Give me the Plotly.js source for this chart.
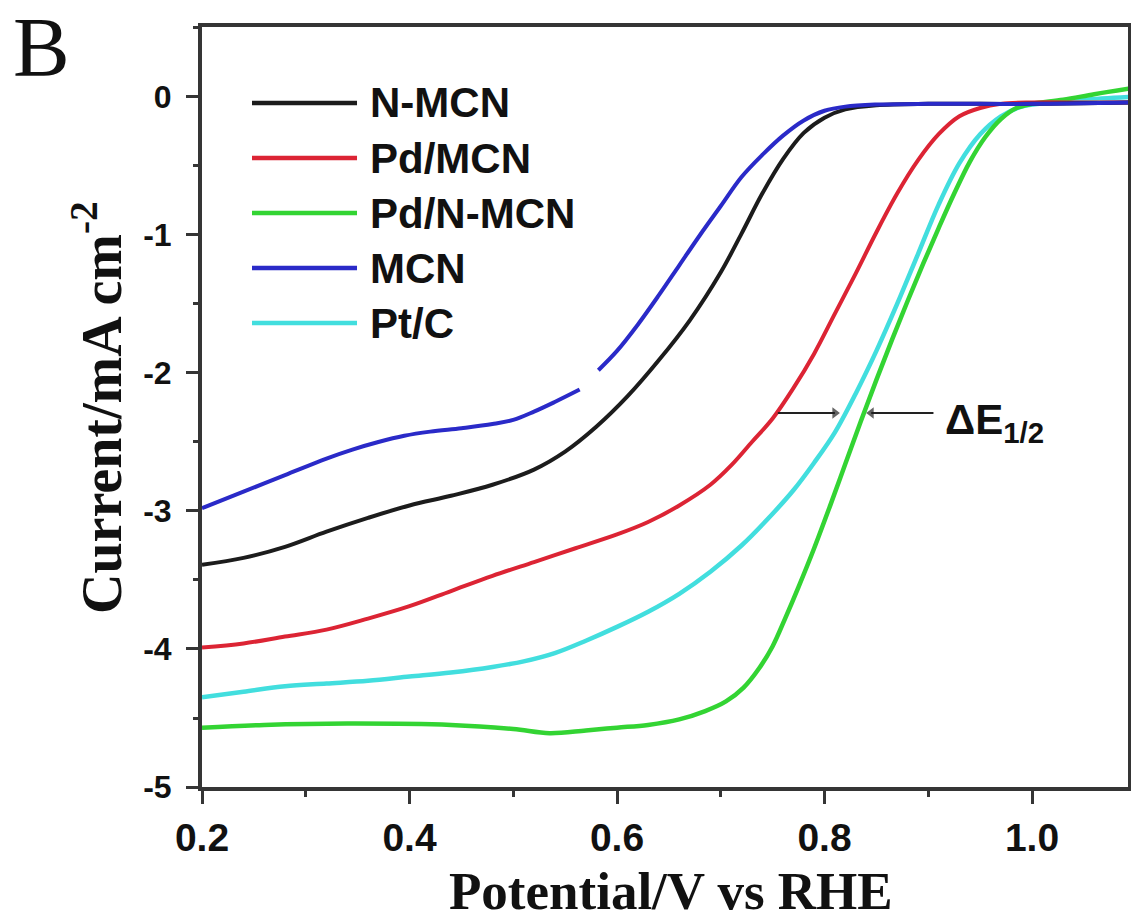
<!DOCTYPE html>
<html>
<head>
<meta charset="utf-8">
<script src="https://cdn.plot.ly/plotly-3.0.1.min.js"></script>
<style>
  html, body { margin: 0; padding: 0; background: #ffffff; }
  #chart { width: 1131px; height: 922px; }
</style>
</head>
<body>
<div id="chart"></div>
<script>
// ---------- data ----------
const seriesNames = ['N-MCN', 'Pd/MCN', 'Pd/N-MCN', 'MCN', 'Pt/C'];
const seriesColors = ['#1c1c1c', '#dc2434', '#33d433', '#2a2ac8', '#42dede'];

const potentialNMCN = [0.2, 0.24, 0.28, 0.32, 0.36, 0.40, 0.44, 0.48, 0.52, 0.55, 0.58, 0.61, 0.64, 0.67, 0.70, 0.72, 0.74, 0.76, 0.78, 0.80, 0.82, 0.85, 0.90, 0.95, 1.0, 1.05, 1.093];
const currentNMCN   = [-3.39, -3.34, -3.26, -3.15, -3.05, -2.96, -2.89, -2.81, -2.70, -2.57, -2.39, -2.17, -1.91, -1.62, -1.27, -0.99, -0.70, -0.45, -0.26, -0.15, -0.09, -0.06, -0.05, -0.05, -0.05, -0.045, -0.04];

const potentialPdMCN = [0.2, 0.24, 0.28, 0.32, 0.36, 0.40, 0.44, 0.48, 0.52, 0.56, 0.60, 0.63, 0.66, 0.69, 0.71, 0.73, 0.75, 0.77, 0.79, 0.81, 0.83, 0.85, 0.87, 0.89, 0.91, 0.93, 0.95, 0.97, 1.0, 1.05, 1.093];
const currentPdMCN   = [-3.99, -3.96, -3.91, -3.86, -3.78, -3.69, -3.58, -3.47, -3.37, -3.27, -3.17, -3.08, -2.96, -2.81, -2.67, -2.50, -2.33, -2.11, -1.86, -1.57, -1.28, -0.98, -0.70, -0.46, -0.27, -0.14, -0.08, -0.05, -0.04, -0.04, -0.04];

const potentialPdNMCN = [0.2, 0.26, 0.34, 0.44, 0.50, 0.535, 0.57, 0.60, 0.63, 0.66, 0.685, 0.705, 0.722, 0.737, 0.75, 0.762, 0.775, 0.79, 0.805, 0.82, 0.835, 0.85, 0.865, 0.88, 0.895, 0.91, 0.925, 0.94, 0.955, 0.97, 0.985, 1.0, 1.03, 1.06, 1.093];
const currentPdNMCN   = [-4.57, -4.55, -4.54, -4.55, -4.58, -4.61, -4.59, -4.57, -4.55, -4.51, -4.45, -4.38, -4.28, -4.14, -3.98, -3.78, -3.55, -3.27, -2.97, -2.66, -2.35, -2.05, -1.76, -1.48, -1.21, -0.95, -0.70, -0.47, -0.29, -0.16, -0.08, -0.05, -0.02, 0.02, 0.06];

// MCN curve has a small break in the original (null marks the gap)
const potentialMCN = [0.2, 0.24, 0.28, 0.32, 0.345, 0.37, 0.395, 0.42, 0.45, 0.48, 0.50, 0.52, 0.54, 0.564, null, 0.582, 0.60, 0.62, 0.64, 0.66, 0.68, 0.70, 0.72, 0.74, 0.76, 0.78, 0.80, 0.82, 0.85, 0.90, 0.95, 1.0, 1.05, 1.093];
const currentMCN   = [-2.98, -2.86, -2.74, -2.62, -2.555, -2.50, -2.455, -2.425, -2.40, -2.37, -2.34, -2.28, -2.21, -2.12, null, -1.98, -1.84, -1.65, -1.44, -1.22, -1.00, -0.79, -0.58, -0.42, -0.28, -0.17, -0.10, -0.07, -0.055, -0.05, -0.05, -0.05, -0.045, -0.04];

const potentialPtC = [0.2, 0.24, 0.28, 0.32, 0.36, 0.40, 0.44, 0.48, 0.51, 0.54, 0.57, 0.60, 0.63, 0.66, 0.69, 0.72, 0.75, 0.77, 0.79, 0.81, 0.83, 0.85, 0.87, 0.89, 0.91, 0.93, 0.95, 0.97, 0.99, 1.02, 1.05, 1.093];
const currentPtC   = [-4.35, -4.31, -4.27, -4.25, -4.23, -4.20, -4.17, -4.13, -4.09, -4.03, -3.94, -3.84, -3.73, -3.60, -3.44, -3.25, -3.02, -2.85, -2.65, -2.43, -2.15, -1.84, -1.50, -1.14, -0.78, -0.48, -0.27, -0.14, -0.07, -0.04, -0.02, 0.0];

const xTickFormat = '.1f';
const yTickVals = [-5, -4, -3, -2, -1, 0];
const yTickText = ['-5', '-4', '-3', '-2', '-1', '0'];

const deltaLabel = 'ΔE<sub>1/2</sub>';
const deltaLevel = -2.29;             // current level of the ΔE1/2 arrows
const arrowRed = [0.755, 0.810];      // tail, head (points right)
const arrowGreen = [0.905, 0.845];    // tail, head (points left)

// ---------- build ----------
const xs = [potentialNMCN, potentialPdMCN, potentialPdNMCN, potentialMCN, potentialPtC];
const ys = [currentNMCN, currentPdMCN, currentPdNMCN, currentMCN, currentPtC];
const widths = [4, 4, 4.5, 4, 4.5];
const drawOrder = [4, 2, 1, 0, 3];

const traces = drawOrder.map(i => ({
  type: 'scatter', mode: 'lines', name: seriesNames[i],
  x: xs[i], y: ys[i], connectgaps: false,
  line: { color: seriesColors[i], width: widths[i], shape: 'spline', smoothing: 1 },
  showlegend: false, hoverinfo: 'skip'
}));

// ΔE1/2 arrows (line + triangle head)
[[arrowRed, 'triangle-right'], [arrowGreen, 'triangle-left']].forEach(([a, sym]) => {
  traces.push({
    type: 'scatter', mode: 'lines+markers', showlegend: false, hoverinfo: 'skip',
    x: a, y: [deltaLevel, deltaLevel],
    line: { color: '#222', width: 2 },
    marker: { symbol: sym, size: [0, 10], color: '#222', line: { width: 0 } }
  });
});

const axisColor = '#353535';
const sans = 'Liberation Sans, Arial, sans-serif';
const serif = 'Liberation Serif, Times New Roman, serif';

const shapes = [];
const annotations = [];
const legTop = 0.9, legStep = 0.0724;
seriesNames.forEach((nm, i) => {
  const yy = legTop - i * legStep;
  shapes.push({ type: 'line', xref: 'paper', yref: 'paper', x0: 0.054, x1: 0.1674, y0: yy, y1: yy,
    line: { color: seriesColors[i], width: 4.5 } });
  annotations.push({ xref: 'paper', yref: 'paper', x: 0.179, y: yy, xanchor: 'left', yanchor: 'middle',
    text: nm, showarrow: false, font: { family: sans, size: 42, weight: 'bold', color: '#111' } });
});

annotations.push({ xref: 'x', yref: 'y', x: 0.914, y: deltaLevel - 0.07, xanchor: 'left', yanchor: 'middle',
  text: deltaLabel, showarrow: false, font: { family: sans, size: 42, weight: 'bold', color: '#111' } });

// axis titles and panel letter
annotations.push({ xref: 'paper', yref: 'paper', x: 0.5065, y: -0.137, xanchor: 'center', yanchor: 'middle',
  text: 'Potential/V vs RHE', showarrow: false, font: { family: serif, size: 53, weight: 'bold', color: '#111' } });
annotations.push({ xref: 'paper', yref: 'paper', x: -0.1134, y: 0.5, xanchor: 'center', yanchor: 'middle', textangle: -90,
  text: 'Current/mA cm<sup>-2</sup>', showarrow: false, font: { family: serif, size: 56, weight: 'bold', color: '#111' } });
annotations.push({ xref: 'paper', yref: 'paper', x: -0.1728, y: 0.9737, xanchor: 'center', yanchor: 'middle',
  text: 'B', showarrow: false, font: { family: serif, size: 85, color: '#111' } });

const layout = {
  width: 1131, height: 922,
  margin: { l: 202, r: 3, t: 27, b: 135 },
  paper_bgcolor: '#ffffff', plot_bgcolor: '#ffffff',
  showlegend: false,
  xaxis: {
    range: [0.2, 1.0925], showgrid: false, zeroline: false,
    showline: true, linewidth: 4, linecolor: axisColor, mirror: true,
    ticks: 'outside', ticklen: 13, tickwidth: 3, tickcolor: axisColor,
    tickmode: 'linear', tick0: 0.2, dtick: 0.2, tickformat: xTickFormat,
    tickfont: { family: sans, size: 39, weight: 'bold', color: '#111' },
    minor: { ticks: 'outside', ticklen: 6, tickwidth: 3, tickcolor: axisColor, tick0: 0.2, dtick: 0.1 }
  },
  yaxis: {
    range: [-5, 0.507], showgrid: false, zeroline: false,
    showline: true, linewidth: 4, linecolor: axisColor, mirror: true,
    ticks: 'outside', ticklen: 12, tickwidth: 3, tickcolor: axisColor,
    tickmode: 'array', tickvals: yTickVals, ticktext: yTickText, ticklabelstandoff: 8,
    tickfont: { family: sans, size: 32, weight: 'bold', color: '#111' },
    minor: { ticks: 'outside', ticklen: 5, tickwidth: 3, tickcolor: axisColor, tick0: 0, dtick: 0.5 }
  },
  shapes: shapes,
  annotations: annotations
};

Plotly.newPlot('chart', traces, layout, { staticPlot: true, displayModeBar: false });
</script>
</body>
</html>
